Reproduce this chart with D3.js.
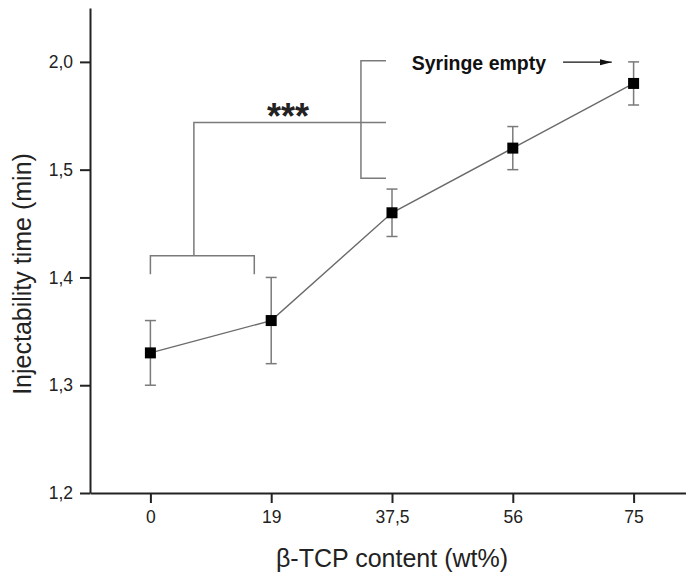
<!DOCTYPE html>
<html>
<head>
<meta charset="utf-8">
<script src="https://cdn.jsdelivr.net/npm/d3@7"></script>
<style>
  html, body { margin: 0; padding: 0; background: #fff; }
  svg { display: block; }
  text { font-family: "Liberation Sans", Arial, sans-serif; }
</style>
</head>
<body>
<svg id="chart" width="686" height="573"></svg>
<script>
// ---- data ----
const categories = ["0", "19", "37,5", "56", "75"];
const values = [1.33, 1.36, 1.46, 1.52, 1.58];
const errors = [0.03, 0.04, 0.022, 0.02, 0.02];
const yTickValues = [1.2, 1.3, 1.4, 1.5, 1.6];
const yTickLabels = ["1,2", "1,3", "1,4", "1,5", "2,0"];
const xTitle = "β-TCP content (wt%)";
const yTitle = "Injectability time (min)";
const sigLabel = "***";
const noteLabel = "Syringe empty";

const svg = d3.select("#chart");
const x = d3.scaleLinear().domain([-0.5, 4.5]).range([90, 694]);
const y = d3.scaleLinear().domain([1.2, 1.65]).range([493, 8]);
const textCol = "#222";
const grey = "#7a7a7a";

// axes
const xAxis = d3.axisBottom(x)
  .tickValues(d3.range(categories.length))
  .tickFormat(i => categories[i])
  .tickSizeInner(10).tickSizeOuter(0).tickPadding(8);
const gx = svg.append("g").attr("transform", `translate(0,${y(1.2)})`).call(xAxis);
gx.select(".domain").attr("stroke", textCol).attr("stroke-width", 2);
gx.selectAll(".tick line").attr("stroke", textCol).attr("stroke-width", 2);
gx.selectAll(".tick text").attr("fill", textCol).attr("font-size", 17.5)
  .attr("font-family", "Liberation Sans, Arial, sans-serif");

const yAxis = d3.axisLeft(y)
  .tickValues(yTickValues)
  .tickFormat((d, i) => yTickLabels[i])
  .tickSizeInner(10).tickSizeOuter(0).tickPadding(7);
const gy = svg.append("g").attr("transform", `translate(${x(-0.5)},0)`).call(yAxis);
gy.select(".domain").attr("stroke", textCol).attr("stroke-width", 2);
gy.selectAll(".tick line").attr("stroke", textCol).attr("stroke-width", 2);
gy.selectAll(".tick text").attr("fill", textCol).attr("font-size", 17.5)
  .attr("font-family", "Liberation Sans, Arial, sans-serif");

// titles
svg.append("text").attr("x", x(2)).attr("y", 567)
  .attr("text-anchor", "middle").attr("font-size", 25).attr("fill", textCol).text(xTitle);
svg.append("text").attr("transform", `translate(31,274) rotate(-90)`)
  .attr("text-anchor", "middle").attr("font-size", 25).attr("fill", textCol).text(yTitle);

// brackets / annotations
const bracket = d3.path();
// lower bracket
bracket.moveTo(x(0), y(1.403)); bracket.lineTo(x(0), y(1.4202));
bracket.lineTo(x(0.86), y(1.4202)); bracket.lineTo(x(0.86), y(1.403));
// connector up and across
bracket.moveTo(x(0.36), y(1.4202)); bracket.lineTo(x(0.36), y(1.5437));
bracket.lineTo(x(1.95), y(1.5437));
// right bracket
bracket.moveTo(x(1.95), y(1.601)); bracket.lineTo(x(1.743), y(1.601));
bracket.lineTo(x(1.743), y(1.492)); bracket.lineTo(x(1.95), y(1.492));
svg.append("path").attr("d", bracket.toString())
  .attr("fill", "none").attr("stroke", grey).attr("stroke-width", 1.5);

svg.append("text").attr("x", x(1.14)).attr("y", y(1.5437) + 6)
  .attr("text-anchor", "middle").attr("font-size", 36).attr("font-weight", "bold")
  .attr("fill", textCol).text(sigLabel);

svg.append("text").attr("x", x(2.163)).attr("y", y(1.5926))
  .attr("font-size", 19.5).attr("font-weight", "bold").attr("fill", "#111").text(noteLabel);

svg.append("defs").append("marker").attr("id", "ah")
  .attr("viewBox", "0 0 12 8").attr("refX", 12).attr("refY", 4)
  .attr("markerWidth", 12).attr("markerHeight", 8).attr("markerUnits", "userSpaceOnUse")
  .attr("orient", "auto")
  .append("path").attr("d", "M0,1 L12,4 L0,7 Z").attr("fill", "#111");
svg.append("line").attr("x1", x(3.416)).attr("x2", x(3.819))
  .attr("y1", y(1.5997)).attr("y2", y(1.5997))
  .attr("stroke", "#111").attr("stroke-width", 1.3).attr("marker-end", "url(#ah)");

// data line
const data = values.map((v, i) => ({ i, v, e: errors[i] }));
svg.append("path").datum(data)
  .attr("d", d3.line().x(d => x(d.i)).y(d => y(d.v)))
  .attr("fill", "none").attr("stroke", "#6a6a6a").attr("stroke-width", 1.4);

// error bars
const eb = svg.append("g").attr("stroke", grey).attr("stroke-width", 1.5);
data.forEach(d => {
  eb.append("line").attr("x1", x(d.i)).attr("x2", x(d.i))
    .attr("y1", y(d.v - d.e)).attr("y2", y(d.v + d.e));
  [d.v - d.e, d.v + d.e].forEach(t => {
    eb.append("line").attr("x1", x(d.i) - 5.5).attr("x2", x(d.i) + 5.5)
      .attr("y1", y(t)).attr("y2", y(t));
  });
});

// markers
svg.append("g").selectAll("rect").data(data).join("rect")
  .attr("x", d => x(d.i) - 5.5).attr("y", d => y(d.v) - 5.5)
  .attr("width", 11).attr("height", 11).attr("fill", "#000");
</script>
</body>
</html>
